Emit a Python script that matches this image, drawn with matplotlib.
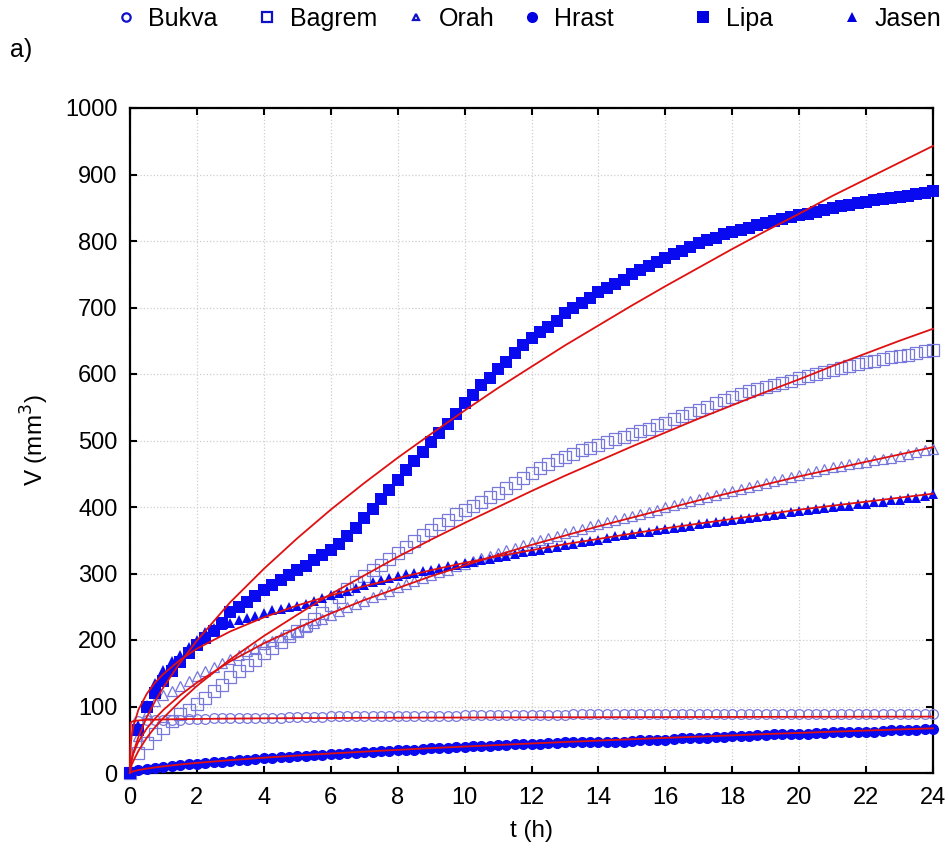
import numpy as np
import matplotlib
matplotlib.use("Agg")
import matplotlib.pyplot as plt
from matplotlib.lines import Line2D

# ---------------- data ----------------
t = np.arange(97) * 0.25  # measurement times (h)

bukva = [0, 78, 79, 79, 80, 80, 80, 81,
         81, 81, 82, 82, 82, 82, 83, 83,
         83, 83, 83, 84, 84, 84, 84, 84,
         85, 85, 85, 85, 85, 85, 85, 86,
         86, 86, 86, 86, 86, 86, 86, 86,
         87, 87, 87, 87, 87, 87, 87, 87,
         87, 87, 87, 87, 87, 88, 88, 88,
         88, 88, 88, 88, 88, 88, 88, 88,
         88, 88, 88, 88, 88, 88, 88, 88,
         88, 88, 88, 88, 89, 89, 89, 89,
         89, 89, 89, 89, 89, 89, 89, 89,
         89, 89, 89, 89, 89, 89, 89, 89,
         89]

bagrem = [0, 30, 45, 58, 68, 78, 88, 95,
          104, 113, 123, 133, 144, 153, 162, 170,
          180, 188, 197, 206, 214, 222, 231, 240,
          252, 264, 276, 287, 296, 305, 313, 322,
          331, 340, 349, 358, 366, 374, 381, 389,
          396, 402, 408, 415, 421, 428, 436, 444,
          451, 458, 464, 470, 475, 480, 485, 489,
          493, 497, 502, 506, 510, 514, 518, 523,
          527, 532, 537, 541, 546, 551, 556, 561,
          566, 570, 574, 577, 581, 584, 587, 590,
          594, 597, 600, 603, 606, 609, 612, 615,
          618, 620, 623, 625, 627, 629, 631, 634,
          636]

orah = [0, 55, 90, 108, 117, 124, 131, 138,
        146, 153, 159, 165, 172, 178, 183, 188,
        194, 199, 204, 209, 214, 219, 226, 232,
        238, 243, 249, 254, 259, 264, 269, 274,
        279, 284, 289, 293, 298, 302, 306, 311,
        315, 319, 323, 327, 331, 335, 339, 343,
        347, 350, 354, 357, 361, 364, 367, 371,
        374, 377, 380, 383, 386, 389, 392, 395,
        400, 403, 406, 409, 412, 415, 418, 421,
        424, 427, 430, 433, 436, 439, 442, 445,
        448, 451, 454, 457, 460, 462, 464, 466,
        468, 470, 472, 474, 477, 480, 483, 485,
        487]

hrast = [0, 4, 6, 8, 9, 10, 12, 13,
         14, 15, 16, 17, 18, 19, 20, 21,
         22, 23, 24, 24, 25, 26, 27, 27,
         28, 29, 30, 30, 31, 32, 33, 33,
         34, 35, 35, 36, 37, 37, 38, 39,
         39, 40, 41, 41, 42, 42, 43, 43,
         44, 44, 45, 45, 46, 46, 46, 47,
         47, 47, 46, 47, 48, 49, 49, 50,
         50, 51, 52, 52, 53, 53, 54, 54,
         55, 56, 56, 57, 57, 58, 58, 59,
         59, 59, 60, 60, 61, 61, 61, 62,
         62, 62, 63, 64, 65, 65, 65, 66,
         66]

lipa = [0, 65, 100, 120, 138, 153, 167, 180,
        193, 203, 213, 226, 242, 250, 257, 266,
        275, 282, 290, 298, 305, 312, 320, 328,
        336, 345, 356, 369, 383, 397, 412, 426,
        440, 455, 469, 483, 497, 511, 525, 540,
        556, 568, 583, 594, 608, 618, 631, 644,
        654, 663, 671, 680, 691, 699, 707, 715,
        723, 730, 736, 741, 750, 756, 762, 769,
        775, 780, 785, 791, 797, 801, 805, 810,
        814, 817, 820, 824, 827, 830, 833, 836,
        839, 841, 844, 847, 850, 852, 854, 857,
        859, 861, 863, 864, 866, 868, 870, 872,
        875]

jasen = [0, 72, 102, 135, 155, 168, 177, 190,
         200, 212, 218, 222, 226, 230, 233, 236,
         241, 245, 247, 249, 251, 254, 259, 263,
         267, 270, 274, 278, 283, 287, 290, 293,
         296, 299, 301, 304, 306, 309, 311, 313,
         316, 318, 320, 322, 325, 327, 329, 332,
         334, 336, 338, 340, 343, 345, 347, 349,
         351, 353, 356, 358, 360, 362, 363, 365,
         367, 369, 370, 372, 374, 376, 377, 379,
         381, 382, 384, 385, 387, 388, 390, 392,
         394, 395, 397, 398, 400, 401, 402, 404,
         405, 407, 408, 410, 411, 413, 414, 416,
         420]

# fitted model curves (read at selected times)
t_fit = [0, 0.02, 0.05, 0.1, 0.25, 0.5, 0.75, 1, 1.5, 2, 3, 4, 5, 6, 7, 8, 9, 10,
         11, 12, 13, 14, 15, 16, 17, 18, 19, 20, 21, 22, 23, 24]
lipa_fit = [0, 11, 20, 31, 54, 84, 108, 129, 166, 199, 257, 307, 353, 396, 436, 474, 510, 545,
            579, 611, 643, 673, 703, 732, 760, 788, 815, 841, 868, 893, 918, 943]
bagrem_fit = [0, 6, 12, 18, 33, 53, 69, 83, 108, 131, 171, 206, 238, 269, 297, 325, 351, 376,
              400, 424, 447, 469, 491, 512, 533, 553, 573, 592, 612, 631, 650, 668]
orah_fit = [0, 13, 20, 29, 47, 67, 82, 95, 117, 136, 168, 195, 218, 240, 260, 278, 296, 312,
            328, 343, 357, 371, 384, 397, 410, 422, 434, 446, 457, 468, 479, 490]
jasen_fit = [0, 42, 56, 70, 95, 119, 136, 149, 170, 187, 213, 234, 252, 267, 281, 293, 305, 316,
             326, 335, 344, 352, 360, 368, 375, 382, 389, 396, 402, 408, 414, 420]
bukva_fit = [0, 76, 77, 78, 79, 80, 80.2, 80.5, 81, 81.3, 81.8, 82.2, 82.5, 82.7, 83.0, 83.1,
             83.3, 83.4, 83.6, 83.7, 83.8, 83.9, 84.0, 84.1, 84.2, 84.3, 84.4, 84.5, 84.6,
             84.7, 84.75, 84.8]
hrast_fit = [0, 1, 1.7, 2.5, 4.4, 6.6, 8.4, 10, 12.8, 15.2, 19.3, 23, 26.3, 29.3, 32.1, 34.8,
             37.4, 39.8, 42.1, 44.4, 46.6, 48.7, 50.8, 52.8, 54.7, 56.6, 58.5, 60.3, 62.1,
             63.8, 65.5, 67.2]

labels = ["Bukva", "Bagrem", "Orah", "Hrast", "Lipa", "Jasen"]
x_ticks = list(range(0, 25, 2))
y_ticks = list(range(0, 1001, 100))

# ---------------- styling ----------------
W, H = 949, 856
fig = plt.figure(figsize=(W / 100, H / 100), dpi=100)
ax = fig.add_axes([130 / W, 1 - 773 / H, (933 - 130) / W, (773 - 108) / H])

BLUE = "#0a0af0"
OPEN = "#7878dc"
RED = "#e01010"

series = [
    (bukva, dict(marker="o", mfc="none", mec=OPEN, ms=7, mew=0.9)),
    (bagrem, dict(marker="s", mfc="none", mec=OPEN, ms=8, mew=0.9)),
    (orah, dict(marker="^", mfc="none", mec=OPEN, ms=6.5, mew=0.9)),
    (hrast, dict(marker="o", mfc=BLUE, mec=BLUE, ms=8, mew=0)),
    (lipa, dict(marker="s", mfc=BLUE, mec=BLUE, ms=8.5, mew=0)),
    (jasen, dict(marker="^", mfc=BLUE, mec=BLUE, ms=6.5, mew=0)),
]
for vals, st in series:
    ax.plot(t, vals, linestyle="none", clip_on=False, zorder=3, **st)

for fv in [lipa_fit, bagrem_fit, orah_fit, jasen_fit, bukva_fit, hrast_fit]:
    ax.plot(t_fit, fv, color=RED, lw=1.3, zorder=4, clip_on=False)

ax.set_xlim(0, 24)
ax.set_ylim(0, 1000)
ax.set_xticks(x_ticks)
ax.set_yticks(y_ticks)
ax.grid(True, linestyle=":", color="#cfcfcf", lw=0.9)
ax.set_axisbelow(True)
for sp in ax.spines.values():
    sp.set_linewidth(1.6)
ax.tick_params(direction="in", length=5, width=1.5, top=True, right=True,
               labeltop=False, labelright=False)
ax.tick_params(axis="x", pad=10)
ax.tick_params(axis="y", pad=9)

narrow = ["Liberation Sans Narrow", "Liberation Sans", "DejaVu Sans"]
arial = ["Liberation Sans", "DejaVu Sans"]
for lb in ax.get_xticklabels():
    lb.set_fontfamily(narrow)
    lb.set_fontsize(17)
for lb in ax.get_yticklabels():
    lb.set_fontfamily(arial)
    lb.set_fontsize(17)

ax.set_xlabel("t (h)", fontsize=17.5, family=narrow, labelpad=8)
ax.set_ylabel("V (mm$^3$)", fontsize=17.5, family=narrow, labelpad=10)

fig.text(10 / W, 1 - 50 / H, "a)", fontsize=18, family=arial, va="center", ha="left")

# legend: one entry each, placed along the top
leg_specs = [
    ("Bukva", dict(marker="o", mfc="none", mec="#1010c8", ms=6, mew=1.6), 126),
    ("Bagrem", dict(marker="s", mfc="none", mec="#1010c8", ms=7, mew=1.6), 267),
    ("Orah", dict(marker="^", mfc="none", mec="#1010c8", ms=5, mew=1.6), 416),
    ("Hrast", dict(marker="o", mfc="#0000e0", mec="#0000e0", ms=8, mew=0), 532),
    ("Lipa", dict(marker="s", mfc="#0000e0", mec="#0000e0", ms=8, mew=0), 703),
    ("Jasen", dict(marker="^", mfc="#0000e0", mec="#0000e0", ms=6.5, mew=0), 852),
]
fs_leg = 18
for name, st, xc in leg_specs:
    h = Line2D([], [], linestyle="none", **st)
    half = fs_leg * 0.6 / 2 * 100 / 72
    fig.legend([h], [name], loc="center left",
               bbox_to_anchor=((xc - half) / W, 1 - 19 / H),
               frameon=False, borderpad=0, borderaxespad=0,
               handlelength=0.6, handletextpad=0.6,
               prop={"family": narrow, "size": fs_leg})

fig.savefig("out.png", dpi=100)
